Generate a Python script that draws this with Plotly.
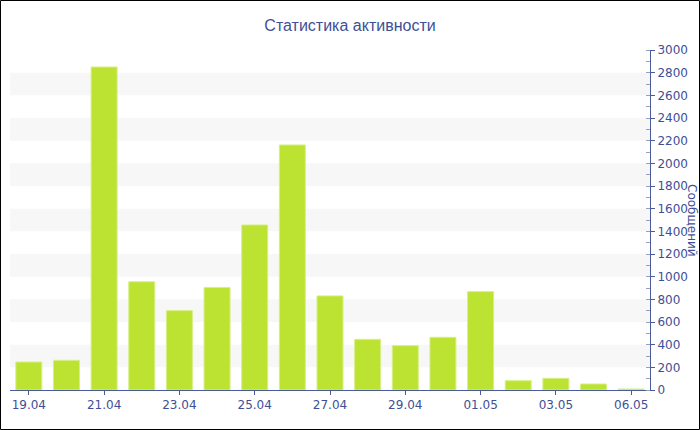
import plotly.graph_objects as go

categories = ["19.04", "20.04", "21.04", "22.04", "23.04", "24.04", "25.04", "26.04",
              "27.04", "28.04", "29.04", "30.04", "01.05", "02.05", "03.05", "04.05", "06.05"]
messages = [247, 262, 2850, 955, 700, 905, 1456, 2162, 830, 447, 391, 465, 868, 82, 103, 53, 9]
tick_labels = ["19.04", "21.04", "23.04", "25.04", "27.04", "29.04", "01.05", "03.05", "06.05"]
y_ticks = list(range(0, 3001, 200))
band_ranges = [(200, 400), (600, 800), (1000, 1200), (1400, 1600), (1800, 2000), (2200, 2400), (2600, 2800)]

TXT = "#3e4f96"
AXC = "#4a5a9f"

fig = go.Figure(go.Bar(
    x=categories, y=messages,
    marker=dict(color="#bce232", line=dict(color="#d6ef84", width=1)),
    hoverinfo="x+y",
))

shapes = []
for y0, y1 in band_ranges:
    shapes.append(dict(type="rect", xref="paper", yref="y", x0=0, x1=1, y0=y0, y1=y1,
                       fillcolor="#f7f7f7", line=dict(width=0), layer="below"))
# outer frame
L, T, W, H = 10, 50, 640, 340
shapes.append(dict(type="rect", xref="paper", yref="paper",
                   x0=(0.5 - L) / W, x1=(699.5 - L) / W,
                   y0=(T + H - 429.5) / H, y1=(T + H - 0.5) / H,
                   line=dict(color="#000000", width=1), fillcolor="rgba(0,0,0,0)"))

fig.update_layout(
    width=700, height=430,
    margin=dict(l=L, r=700 - L - W, t=T, b=430 - T - H, autoexpand=False),
    paper_bgcolor="white", plot_bgcolor="white",
    bargap=0.31,
    showlegend=False,
    title=dict(text="Статистика активности", x=0.5, xanchor="center", y=1 - 25 / 430, yanchor="middle",
               font=dict(family="Liberation Sans, Arial", size=16, color=TXT)),
    font=dict(family="DejaVu Sans, Verdana", size=12, color=TXT),
    shapes=shapes,
    xaxis=dict(type="category", tickmode="array", tickvals=tick_labels, ticktext=tick_labels,
               showline=True, linecolor=AXC, linewidth=1, ticks="outside", ticklen=4, tickcolor=AXC,
               showgrid=False, tickfont=dict(size=12, color=TXT), fixedrange=True, automargin=False),
    yaxis=dict(side="right", range=[0, 3000], tickvals=y_ticks, showgrid=False, zeroline=False,
               showline=True, linecolor=AXC, linewidth=1, ticks="outside", ticklen=4, tickcolor=AXC,
               minor=dict(dtick=100, ticks="inside", ticklen=4, tickcolor="#9aa0b8", showgrid=False),
               tickfont=dict(size=12, color=TXT), fixedrange=True, automargin=False),
    annotations=[dict(text="Сообщений", xref="paper", yref="paper", x=(692 - L) / W, y=0.5,
                      xanchor="center", yanchor="middle", textangle=90, showarrow=False,
                      font=dict(family="DejaVu Sans, Verdana", size=12, color=TXT))],
)

fig.write_html("out.html", config={"displayModeBar": False},
               post_script="document.body.style.margin='0';document.body.style.overflow='hidden';")
